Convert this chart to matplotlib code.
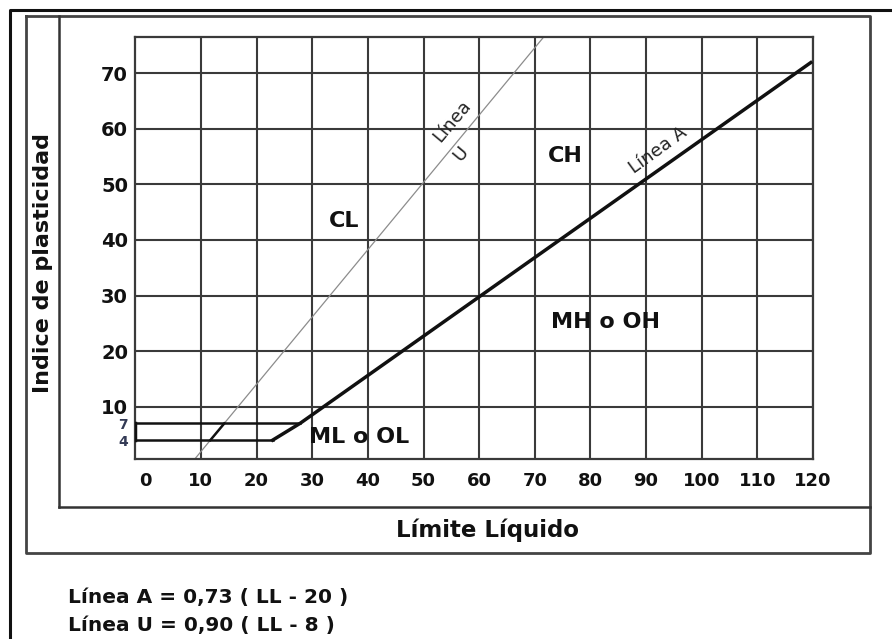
import matplotlib
matplotlib.use("Agg")
import matplotlib.pyplot as plt

# Carta de plasticidad: valores
x_ticks = [0, 10, 20, 30, 40, 50, 60, 70, 80, 90, 100, 110, 120]
y_grid = [10, 20, 30, 40, 50, 60, 70]
y_small = [4, 7]

# Linea A tal como esta dibujada (el primer tramo cierra la zona CL-ML)
line_a_ll = [22.9, 27.8, 119.6]
line_a_pi = [4.0, 7.0, 71.9]

# Linea U
line_u_ll = [8.4, 71.6]
line_u_pi = [0.0, 76.5]

# tramo de la linea U remarcado entre IP 4 y 7
zone_u_ll = [11.7, 14.2]
zone_u_pi = [4.0, 7.0]

# limites horizontales de la zona CL-ML
zone_pi = [4.0, 7.0]
zone_ll_end = [22.9, 27.8]

formulas = ["Línea A = 0,73 ( LL - 20 )", "Línea U = 0,90 ( LL - 8 )"]

LL_MIN, LL_MAX = -1.85, 120
PI_MIN, PI_MAX = 0.6, 76.5
W, H = 892, 639

plt.rcParams["font.family"] = ["DejaVu Sans"]

fig = plt.figure(figsize=(W / 100, H / 100), dpi=100)

# marco exterior y cajas, en pixeles
bg = fig.add_axes([0, 0, 1, 1])
bg.set_xlim(0, W)
bg.set_ylim(H, 0)
bg.axis("off")
bg.plot([10, 10, W + 5], [H + 5, 10, 10], color="#111111", lw=2.2)
bg.plot([26, 870, 870, 26, 26], [16, 16, 553, 553, 16], color="#444444", lw=2.0)
bg.plot([59, 59], [16, 507], color="#333333", lw=1.8)
bg.plot([59, 870], [507, 507], color="#333333", lw=1.8)

bg.text(43, 263, "Indice de plasticidad", rotation=90, ha="center", va="center",
        fontsize=16, fontweight="bold", color="#111111")
bg.text(488, 530, "Límite Líquido", ha="center", va="center",
        fontsize=16.5, fontweight="bold", color="#111111")
for i, line in enumerate(formulas):
    bg.text(68, 597 + i * 28, line, ha="left", va="center",
            fontsize=14.5, fontweight="bold", color="#111111")

ax = fig.add_axes([135 / W, 1 - 459 / H, (813 - 135) / W, (459 - 37) / H])
ax.set_xlim(LL_MIN, LL_MAX)
ax.set_ylim(PI_MIN, PI_MAX)
for s in ax.spines.values():
    s.set_color("#3a3a3a")
    s.set_linewidth(1.6)

grid_kw = dict(color="#3a3a3a", lw=1.5, zorder=1)
for v in x_ticks[1:]:
    ax.axvline(v, **grid_kw)
for h in y_grid:
    ax.axhline(h, **grid_kw)

# zona CL-ML
for pi_val, ll_end in zip(zone_pi, zone_ll_end):
    ax.plot([LL_MIN, ll_end], [pi_val, pi_val], color="#111111", lw=1.8, zorder=3)
ax.plot([LL_MIN, LL_MIN], zone_pi, color="#111111", lw=2.5, zorder=3)

ax.plot(line_u_ll, line_u_pi, color="#8c8c8c", lw=0.9, zorder=2)
ax.plot(zone_u_ll, zone_u_pi, color="#111111", lw=1.8, zorder=3)
ax.plot(line_a_ll, line_a_pi, color="#111111", lw=2.5, zorder=3)

ax.set_xticks(x_ticks)
ax.set_xticklabels([str(v) for v in x_ticks], fontsize=13, fontweight="bold")
ax.set_yticks(y_small + y_grid)
ax.set_yticklabels([str(v) for v in y_small + y_grid], fontsize=14, fontweight="bold")
ax.tick_params(axis="x", length=0, pad=9, colors="#111111")
ax.tick_params(axis="y", length=0, pad=5, colors="#111111")
for lbl in ax.get_yticklabels()[:2]:
    lbl.set_fontsize(10)
    lbl.set_color("#333a55")

lab_kw = dict(ha="center", va="center", fontsize=16, fontweight="bold",
              color="#111111", zorder=4)
ax.text(35.8, 43.4, "CL", **lab_kw)
ax.text(75.5, 55.1, "CH", **lab_kw)
ax.text(82.7, 25.2, "MH o OH", **lab_kw)
ax.text(38.5, 4.6, "ML o OL", **lab_kw)

rot_kw = dict(ha="center", va="center", fontsize=13, color="#222222", zorder=4,
              rotation_mode="anchor")
ax.text(55.1, 61.4, "Línea", rotation=50, **rot_kw)
ax.text(56.7, 55.5, "U", rotation=50, **rot_kw)
ax.text(92.2, 56.2, "Línea A", rotation=36, **rot_kw)

fig.savefig("out.png", dpi=100)
